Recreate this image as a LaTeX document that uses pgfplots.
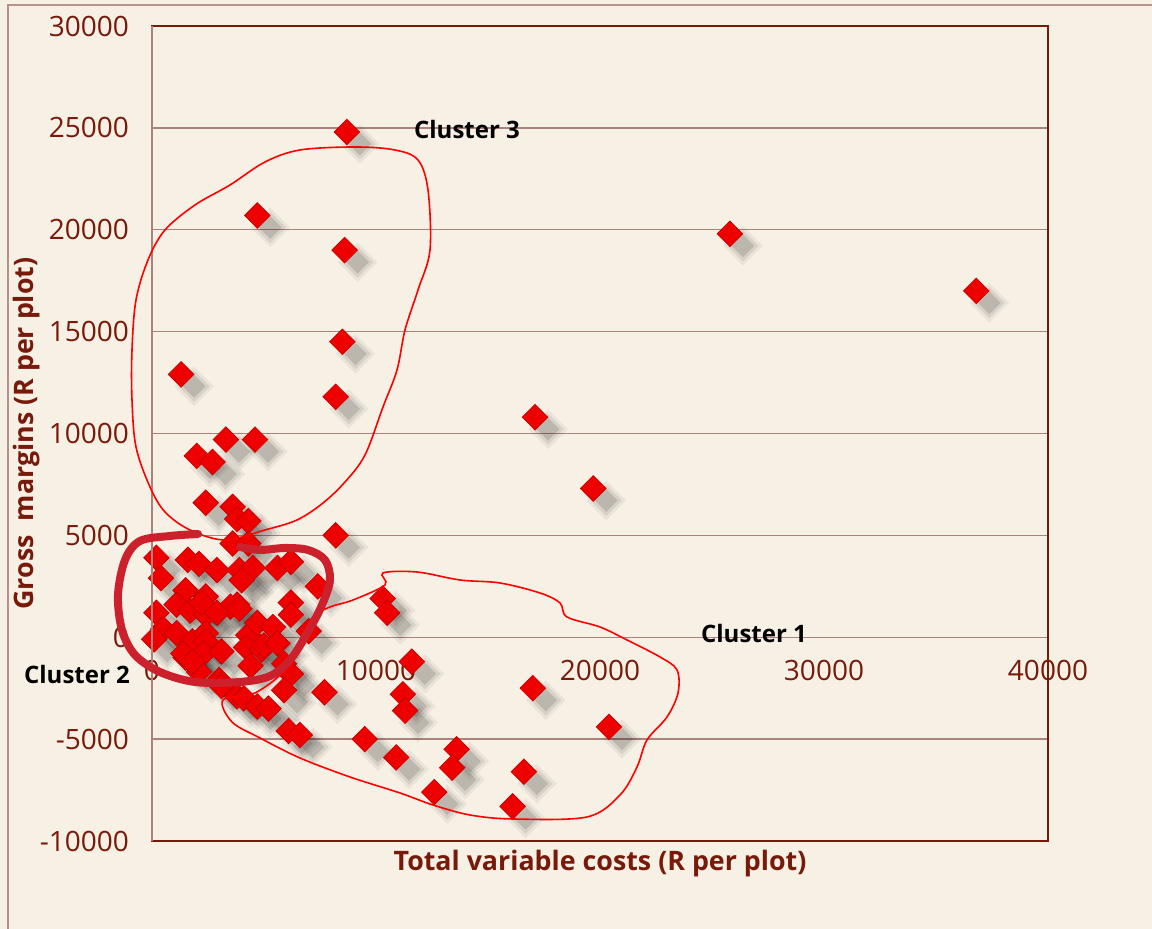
\documentclass[border=0pt]{standalone}
\usepackage{fontspec}
\setmainfont{Open Sans}
\usepackage{pgfplots}
\usepackage{pgfplotstable}
\pgfplotsset{compat=1.18}

\definecolor{bgc}{RGB}{247,240,229}
\definecolor{dred}{RGB}{120,26,10}
\definecolor{gridc}{RGB}{172,130,124}
\definecolor{outc}{RGB}{185,145,140}
\definecolor{mred}{RGB}{238,0,0}
\definecolor{loopc}{RGB}{205,32,45}

% total variable costs vs gross margins (R per plot)
\pgfplotstableread{
x y
8700 24800
4700 20700
8600 19000
25800 19800
36800 17000
8500 14500
1300 12900
8200 11800
17100 10800
3300 9700
4600 9700
2000 8900
2700 8600
19700 7300
2400 6600
3600 6400
3800 5800
4300 5700
8200 5000
3600 4600
4300 4600
200 3900
400 2900
1600 3800
2100 3600
2900 3300
3900 3300
4500 3400
5600 3400
6200 3700
4000 2800
1500 2300
2400 2000
1100 1600
1700 1300
2400 1100
3800 1600
3500 1500
2200 1700
2900 1200
200 1200
6200 1700
6200 1100
7400 2500
500 400
100 -100
1100 200
1800 -200
2400 200
2400 -200
1500 -1000
1400 -800
2300 -800
3100 -700
4300 100
4700 700
5400 500
4200 -500
4900 -600
5000 -400
5600 -300
4400 -1400
2100 -1700
1800 -1200
3000 -2100
3100 -2400
5900 -1300
6200 -1800
7000 300
5900 -2600
3800 -2900
4100 -3000
4700 -3400
5200 -3500
6100 -4600
6600 -4800
3900 1400
10300 1900
10500 1200
11600 -1200
7700 -2700
11200 -2800
11300 -3600
17000 -2500
9500 -5000
10900 -5900
20400 -4400
13600 -5500
13400 -6400
12600 -7600
16600 -6600
16100 -8300
}\pts

\begin{document}
\begin{tikzpicture}
\fill[bgc] (-76pt,-44pt) rectangle (500pt,420.5pt);
\draw[outc, line width=1pt] (-72pt,-44pt) -- (-72pt,418pt) -- (500pt,418pt);
\begin{axis}[
  scale only axis,
  width=448pt, height=407.5pt,
  xmin=0, xmax=40000, ymin=-10000, ymax=30000,
  xtick={0,10000,...,40000}, xticklabels={},
  ytick={-10000,-5000,...,30000},
  scaled x ticks=false, scaled y ticks=false,
  ymajorgrids,
  major grid style={gridc, line width=0.7pt},
  major tick length=0pt,
  axis line style={dred, line width=1pt},
  axis background/.style={fill=bgc},
  yticklabel style={font=\fontsize{14}{14}\selectfont, text=dred, xshift=-8pt},
  /pgf/number format/1000 sep={},
  /pgf/number format/assume math mode=true,
  xlabel={Total variable costs (R per plot)},
  xlabel style={font=\fontsize{13.4}{14}\selectfont\bfseries, text=dred,
    at={(axis description cs:0.5,0)}, anchor=north, yshift=-1pt},
  ylabel={Gross\ \ margins (R per plot)},
  every axis y label/.style={at={(axis description cs:0,0.5)}, xshift=-62.5pt,
    rotate=90, anchor=center, font=\fontsize{13.4}{14}\selectfont\bfseries, text=dred},
  clip=false,
]
% blurred drop shadows
\addplot[only marks, mark=square*, mark size=7pt,
  mark options={xshift=6.5pt, yshift=-6pt, rotate=45, fill=black, draw opacity=0, fill opacity=0.05}] table {\pts};
\addplot[only marks, mark=square*, mark size=5.5pt,
  mark options={xshift=6.5pt, yshift=-6pt, rotate=45, fill=black, draw opacity=0, fill opacity=0.08}] table {\pts};
\addplot[only marks, mark=square*, mark size=4pt,
  mark options={xshift=6.5pt, yshift=-6pt, rotate=45, fill=black, draw opacity=0, fill opacity=0.12}] table {\pts};
\addplot[only marks, mark=square*, mark size=4.5pt,
  mark options={rotate=45, fill=mred, draw=mred!85!black, line width=0.4pt}] table {\pts};

\node[anchor=base, text=dred, font=\fontsize{14}{14}\selectfont, yshift=-21.5pt] at (axis cs:0,0) {0};
\node[anchor=base, text=dred, font=\fontsize{14}{14}\selectfont, yshift=-21.5pt] at (axis cs:10000,0) {10000};
\node[anchor=base, text=dred, font=\fontsize{14}{14}\selectfont, yshift=-21.5pt] at (axis cs:20000,0) {20000};
\node[anchor=base, text=dred, font=\fontsize{14}{14}\selectfont, yshift=-21.5pt] at (axis cs:30000,0) {30000};
\node[anchor=base, text=dred, font=\fontsize{14}{14}\selectfont, yshift=-21.5pt] at (axis cs:40000,0) {40000};
\end{axis}
\draw[gridc, line width=1pt] (0,0) -- (0,407.5pt);

% hand drawn cluster outlines (pixel coordinates of the page)
\begin{scope}[shift={(-76pt,420.5pt)}, x=0.5pt, y=-0.5pt]
\draw[red, line width=0.8pt] plot[smooth cycle, tension=0.55] coordinates {
  (430,250) (428,190) (418,160) (395,150) (355,147) (300,150) (265,162) (230,185)
  (195,205) (165,230) (148,260) (136,300) (132,350) (132,400) (136,447) (150,487)
  (165,512) (190,530) (225,540) (265,530) (297,520) (323,503) (345,482) (365,455)
  (383,407) (397,370) (405,330) (418,290)};
\draw[red, line width=0.8pt] plot[smooth cycle, tension=0.55] coordinates {
  (223,700) (232,722) (260,738) (300,758) (350,777) (400,793) (433,805) (470,815)
  (513,819) (587,817) (620,795) (637,767) (647,740) (667,717) (678,693) (677,670)
  (660,657) (627,640) (600,627) (567,617) (560,603) (540,593) (500,583) (460,580)
  (417,572) (383,573) (385,585) (353,600) (330,607) (313,617) (300,640) (285,670)
  (255,693)};
\draw[loopc, line width=4pt, line cap=round] plot[smooth, tension=0.55] coordinates {
  (198,534) (170,536) (140,541) (125,560) (118,595) (122,630) (135,655) (160,672)
  (195,682) (240,682) (270,676) (290,660) (308,632) (322,605) (330,580) (325,560)
  (308,550) (285,548) (260,550) (240,547)};
\node[font=\fontsize{12}{12}\selectfont\bfseries] at (467,130) {Cluster 3};
\node[font=\fontsize{12}{12}\selectfont\bfseries] at (754,634) {Cluster 1};
\node[font=\fontsize{12}{12}\selectfont\bfseries] at (77,675) {Cluster 2};
\end{scope}
\pgfresetboundingbox
\path[use as bounding box] (-76pt,-44pt) rectangle (500pt,420.5pt);
\end{tikzpicture}
\end{document}
